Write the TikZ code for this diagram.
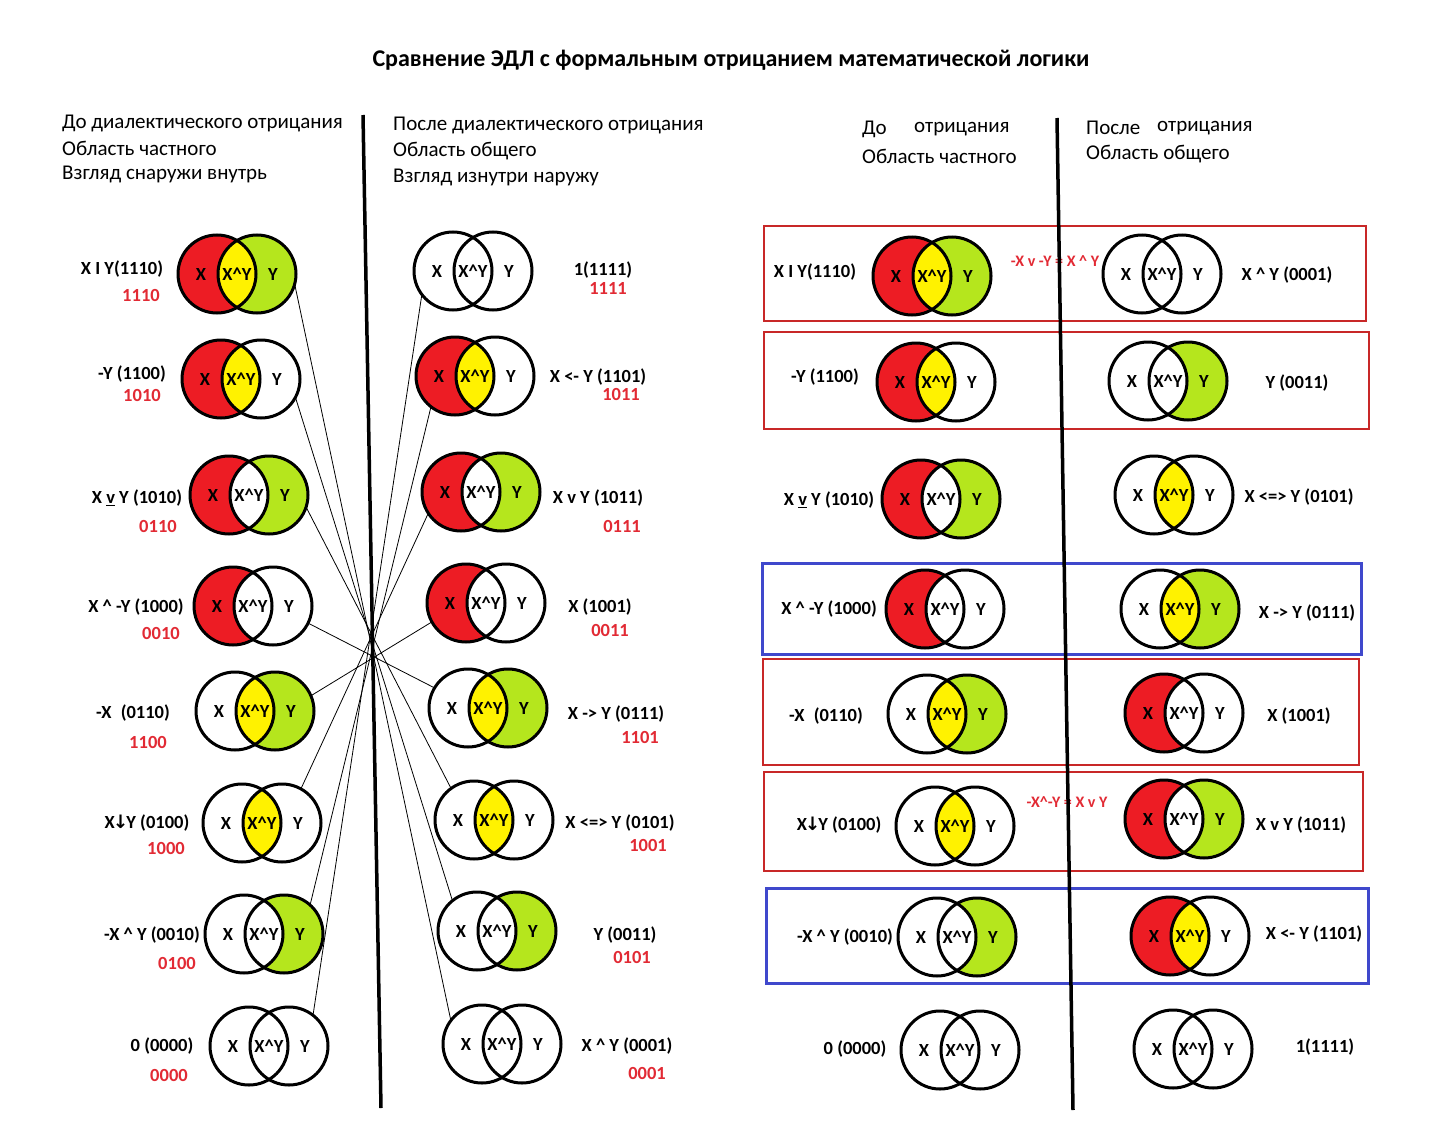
\documentclass[tikz,border=0pt]{standalone}
\usepackage{fontspec}
\setmainfont{Carlito}
\newfontfamily\arrowfont{DejaVu Sans}
\definecolor{vred}{RGB}{237,28,36}
\definecolor{vyel}{RGB}{255,242,0}
\definecolor{vgrn}{RGB}{181,230,29}
\definecolor{numred}{RGB}{226,42,52}
\definecolor{boxred}{RGB}{200,40,40}
\definecolor{boxblue}{RGB}{63,72,204}
\newcommand\ci{\textasciicircum}
\newcommand\dn{{\arrowfont\kern-2pt↓\kern-2pt}}
\tikzset{
 vc/.style={circle, draw, line width=3pt, minimum size=78pt, inner sep=0pt, outer sep=0pt},
 vt/.style={font=\fontsize{18.5}{18.5}\selectfont\bfseries, inner sep=0pt},
 lab/.style={font=\fontsize{18.5}{18.5}\selectfont\bfseries, inner sep=0pt},
 num/.style={font=\fontsize{18.5}{18.5}\selectfont\bfseries, text=numred, inner sep=0pt},
 hdr/.style={font=\fontsize{21}{21}\selectfont, anchor=west, inner sep=0pt},
 ttl/.style={font=\fontsize{24}{24}\selectfont\bfseries, inner sep=0pt},
 conn/.style={line width=0.8pt},
 divider/.style={line width=3.5pt},
 redbox/.style={draw=boxred, line width=1.3pt},
 bluebox/.style={draw=boxblue, line width=3pt},
 note/.style={font=\fontsize{16}{16}\selectfont\bfseries, text=numred, inner sep=0pt}
}
% name, cx, cy, colour X, colour XY, colour Y
\newcommand\vennd[6]{%
\begin{scope}[shift={(#2,#3)}]
 \fill[#4] (-20,0) circle (39pt);
 \fill[#6] (20,0) circle (39pt);
 \begin{scope}\clip (-20,0) circle (39pt); \fill[#5] (20,0) circle (39pt);\end{scope}
 \node[vc] (#1x) at (-20,0) {};
 \node[vc] (#1y) at (20,0) {};
 \node[vt] (#1tx) at (-36,0) {X};
 \node[vt] (#1txy) at (0,0) {X\ci Y};
 \node[vt] (#1ty) at (36,0) {Y};
\end{scope}}
\begin{document}
\begin{tikzpicture}[x=1pt,y=-1pt]
\useasboundingbox (0,0) rectangle (1438,1140);
\fill[white] (0,0) rectangle (1438,1140);

% title
\node[ttl] (title) at (731,60) {Сравнение ЭДЛ с формальным отрицанием математической логики};

% headers
\node[hdr] (h1a) at (62,123) {До диалектического отрицания};
\node[hdr] (h1b) at (62,148) {Область частного};
\node[hdr] (h1c) at (62,174) {Взгляд снаружи внутрь};
\node[hdr] (h2a) at (393,125) {После диалектического отрицания};
\node[hdr] (h2b) at (393,151) {Область общего};
\node[hdr] (h2c) at (393,177) {Взгляд изнутри наружу};
\node[hdr] (h3a) at (862,129) {До};
\node[hdr] (h3a2) at (914,129) {отрицания};
\node[hdr] (h3b) at (862,156) {Область частного};
\node[hdr] (h4a) at (1086,128) {После};
\node[hdr] (h4a2) at (1157,128) {отрицания};
\node[hdr] (h4b) at (1086,154) {Область общего};

% boxes on the right
\draw[redbox] (764,226) rectangle (1366,321);
\draw[redbox] (764,332) rectangle (1369,429);
\draw[bluebox] (762,563) rectangle (1361,654);
\draw[redbox] (763,659) rectangle (1359,765);
\draw[redbox] (764,772) rectangle (1363,871);
\draw[bluebox] (766,888) rectangle (1368,983);

% left column
\vennd{L1}{237}{274}{vred}{vyel}{vgrn}
\vennd{L2}{241}{379}{vred}{vyel}{white}
\vennd{L3}{249}{495}{vred}{white}{vgrn}
\vennd{L4}{253}{606}{vred}{white}{white}
\vennd{L5}{255}{711}{white}{vyel}{vgrn}
\vennd{L6}{262}{823}{white}{vyel}{white}
\vennd{L7}{264}{934}{white}{white}{vgrn}
\vennd{L8}{269}{1046}{white}{white}{white}
% middle column
\vennd{M1}{473}{271}{white}{white}{white}
\vennd{M2}{475}{376}{vred}{vyel}{white}
\vennd{M3}{481}{492}{vred}{white}{vgrn}
\vennd{M4}{486}{603}{vred}{white}{white}
\vennd{M5}{488}{708}{white}{vyel}{vgrn}
\vennd{M6}{494}{820}{white}{vyel}{white}
\vennd{M7}{497}{931}{white}{white}{vgrn}
\vennd{M8}{502}{1044}{white}{white}{white}
% right section, before
\vennd{A1}{932}{276}{vred}{vyel}{vgrn}
\vennd{A2}{936}{382}{vred}{vyel}{white}
\vennd{A3}{941}{499}{vred}{white}{vgrn}
\vennd{A4}{945}{609}{vred}{white}{white}
\vennd{A5}{947}{714}{white}{vyel}{vgrn}
\vennd{A6}{955}{826}{white}{vyel}{white}
\vennd{A7}{957}{937}{white}{white}{vgrn}
\vennd{A8}{960}{1050}{white}{white}{white}
% right section, after
\vennd{B1}{1162}{274}{white}{white}{white}
\vennd{B2}{1168}{381}{white}{white}{vgrn}
\vennd{B3}{1174}{495}{white}{vyel}{white}
\vennd{B4}{1180}{609}{white}{vyel}{vgrn}
\vennd{B5}{1184}{713}{vred}{white}{white}
\vennd{B6}{1184}{819}{vred}{white}{vgrn}
\vennd{B7}{1190}{936}{vred}{vyel}{white}
\vennd{B8}{1193}{1049}{white}{white}{white}

% left labels
\node[lab] (lL1) at (122,269) {X I Y(1110)};
\node[num] (nL1) at (141,295) {1110};
\node[lab] (lL2) at (132,374) {-Y (1100)};
\node[num] (nL2) at (142,395) {1010};
\node[lab] (lL3) at (137,498) {X \underline{v} Y (1010)};
\node[num] (nL3) at (158,526) {0110};
\node[lab] (lL4) at (136,607) {X \ci{} -Y (1000)};
\node[num] (nL4) at (161,633) {0010};
\node[lab] (lL5) at (133,713) {-X\enspace(0110)};
\node[num] (nL5) at (148,742) {1100};
\node[lab] (lL6) at (147,823) {X\dn Y (0100)};
\node[num] (nL6) at (166,848) {1000};
\node[lab] (lL7) at (152,935) {-X \ci{} Y (0010)};
\node[num] (nL7) at (177,963) {0100};
\node[lab] (lL8) at (162,1046) {0 (0000)};
\node[num] (nL8) at (169,1075) {0000};
% middle labels
\node[lab] (lM1) at (603,270) {1(1111)};
\node[num] (nM1) at (608,288) {1111};
\node[lab] (lM2) at (598,377) {X <- Y (1101)};
\node[num] (nM2) at (621,394) {1011};
\node[lab] (lM3) at (598,498) {X v Y (1011)};
\node[num] (nM3) at (622,526) {0111};
\node[lab] (lM4) at (600,607) {X (1001)};
\node[num] (nM4) at (610,630) {0011};
\node[lab] (lM5) at (616,714) {X -> Y (0111)};
\node[num] (nM5) at (640,737) {1101};
\node[lab] (lM6) at (620,823) {X <=> Y (0101)};
\node[num] (nM6) at (648,845) {1001};
\node[lab] (lM7) at (625,935) {Y (0011)};
\node[num] (nM7) at (632,957) {0101};
\node[lab] (lM8) at (627,1046) {X \ci{} Y (0001)};
\node[num] (nM8) at (647,1073) {0001};
% right section labels
\node[lab] (lA1) at (815,272) {X I Y(1110)};
\node[lab] (lA2) at (825,377) {-Y (1100)};
\node[lab] (lA3) at (829,500) {X \underline{v} Y (1010)};
\node[lab] (lA4) at (829,609) {X \ci{} -Y (1000)};
\node[lab] (lA5) at (826,716) {-X\enspace(0110)};
\node[lab] (lA6) at (839,825) {X\dn Y (0100)};
\node[lab] (lA7) at (845,937) {-X \ci{} Y (0010)};
\node[lab] (lA8) at (855,1049) {0 (0000)};
\node[lab] (lB1) at (1287,275) {X \ci{} Y (0001)};
\node[lab] (lB2) at (1297,383) {Y (0011)};
\node[lab] (lB3) at (1299,497) {X <=> Y (0101)};
\node[lab] (lB4) at (1307,613) {X -> Y (0111)};
\node[lab] (lB5) at (1299,716) {X (1001)};
\node[lab] (lB6) at (1301,825) {X v Y (1011)};
\node[lab] (lB7) at (1314,934) {X <- Y (1101)};
\node[lab] (lB8) at (1325,1047) {1(1111)};

% red notes
\node[note] (note1) at (1055,261) {-X v -Y = X \ci{} Y};
\node[note] (note2) at (1067,802) {-X\ci-Y = X v Y};

% dividers
\coordinate (d1t) at (363,115);
\coordinate (d1b) at (381,1108);
\coordinate (d2t) at (1057,118);
\coordinate (d2b) at (1073,1110);
\draw[divider] (d1t) -- (d1b);
\draw[divider] (d2t) -- (d2b);

% crossing connectors
\draw[conn] (L1y.-15) -- (M8x.143);
\draw[conn] (L2y.-28) -- (M7x.129);
\draw[conn] (L3y.-18) -- (M6x.126);
\draw[conn] (L4y.-26) -- (M5x.149);
\draw[conn] (L5y.23) -- (M4x.-151);
\draw[conn] (L6y.61) -- (M3x.-147);
\draw[conn] (L7y.48) -- (M2x.-128);
\draw[conn] (L8y.52) -- (M1x.-143);
\end{tikzpicture}
\end{document}
